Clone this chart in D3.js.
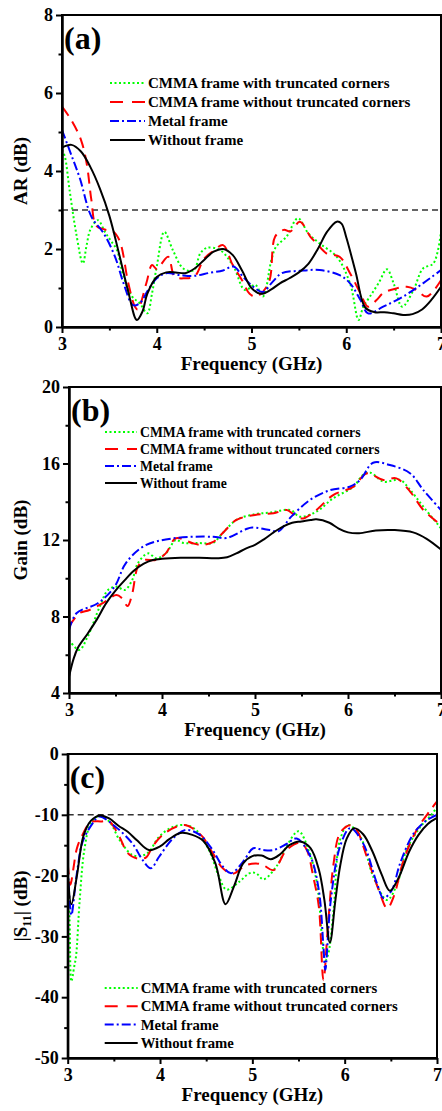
<!DOCTYPE html>
<html lang="en">
<head>
<meta charset="UTF-8">
<title>AR, Gain and S11 vs Frequency</title>
<script src="https://d3js.org/d3.v7.min.js"></script>
<style>
  body { margin: 0; padding: 0; background: #fff; }
  svg text { font-family: 'Liberation Serif', 'Times New Roman', serif; font-weight: bold; fill: #000; }
</style>
</head>
<body>
<svg id="chart" width="442" height="1111"></svg>
<script>

// ---- data (frequency in GHz, value) ----
var freqTicks = [3, 4, 5, 6, 7];
var freqMinor = [3.5, 4.5, 5.5, 6.5];

var seriesNames = ["CMMA frame with truncated corners", "CMMA frame without truncated corners", "Metal frame", "Without frame"];

// (a) axial ratio, dB
var arTicks = [0, 2, 4, 6, 8];
var arMinor = [1, 3, 5, 7];
var arLimit = 3;
var arGreen = [[3.0,4.54],[3.03,4.37],[3.08,3.51],[3.15,2.4],[3.22,1.63],[3.26,2.1],[3.3,2.5],[3.38,2.74],[3.45,2.45],[3.51,2.23],[3.58,1.97],[3.65,1.29],[3.74,0.78],[3.82,0.61],[3.9,0.35],[3.95,0.86],[4.0,1.55],[4.08,2.44],[4.17,1.97],[4.28,1.5],[4.39,1.45],[4.46,1.89],[4.53,2.03],[4.67,1.97],[4.81,1.55],[4.93,0.95],[5.04,1.08],[5.12,0.78],[5.21,1.72],[5.26,2.06],[5.37,2.32],[5.49,2.79],[5.6,2.4],[5.72,2.14],[5.9,1.8],[6.04,1.12],[6.13,0.18],[6.18,0.52],[6.25,0.78],[6.34,1.12],[6.43,1.48],[6.5,1.12],[6.59,0.52],[6.71,0.95],[6.81,1.5],[6.92,1.63],[7.0,2.44]];
var arRed = [[3.0,5.65],[3.1,5.3],[3.2,4.8],[3.26,4.2],[3.31,3.26],[3.36,2.6],[3.45,2.5],[3.54,2.45],[3.61,2.2],[3.7,1.12],[3.77,0.52],[3.8,0.45],[3.89,1.12],[3.95,1.59],[4.0,1.49],[4.12,1.8],[4.19,1.29],[4.3,1.25],[4.4,1.3],[4.5,1.75],[4.6,1.95],[4.7,2.1],[4.8,1.6],[4.9,1.2],[4.98,0.85],[5.05,0.78],[5.18,1.12],[5.25,2.32],[5.34,2.49],[5.41,2.45],[5.51,2.7],[5.62,2.32],[5.69,2.14],[5.79,1.89],[5.93,1.8],[6.04,1.38],[6.15,0.86],[6.23,0.52],[6.32,0.69],[6.39,0.87],[6.53,0.99],[6.64,1.03],[6.74,0.95],[6.85,0.78],[7.0,1.2]];
var arBlue = [[3.0,5.05],[3.1,4.4],[3.19,3.8],[3.31,2.83],[3.44,2.4],[3.56,1.8],[3.65,1.12],[3.75,0.56],[3.82,0.61],[3.91,0.95],[4.0,1.25],[4.1,1.38],[4.25,1.33],[4.39,1.31],[4.56,1.39],[4.7,1.45],[4.81,1.55],[4.91,1.29],[5.02,1.03],[5.12,0.9],[5.22,1.15],[5.32,1.38],[5.51,1.44],[5.72,1.46],[5.93,1.33],[6.04,1.12],[6.15,0.69],[6.23,0.35],[6.39,0.52],[6.6,0.78],[6.81,1.12],[7.0,1.46]];
var arBlack = [[3.0,4.6],[3.1,4.67],[3.2,4.5],[3.3,4.1],[3.4,3.55],[3.5,2.85],[3.6,1.9],[3.7,0.9],[3.79,0.18],[3.85,0.4],[3.9,0.85],[4.0,1.28],[4.1,1.4],[4.2,1.4],[4.3,1.38],[4.4,1.5],[4.5,1.72],[4.6,1.93],[4.7,2.0],[4.8,1.85],[4.9,1.45],[5.0,1.0],[5.1,0.85],[5.2,0.95],[5.3,1.12],[5.4,1.25],[5.5,1.4],[5.6,1.62],[5.7,2.0],[5.8,2.45],[5.9,2.7],[5.95,2.65],[6.0,2.3],[6.1,1.4],[6.2,0.5],[6.3,0.38],[6.4,0.38],[6.5,0.35],[6.6,0.31],[6.7,0.33],[6.8,0.45],[6.9,0.7],[7.0,1.03]];

// (b) gain, dB
var gainTicks = [4, 8, 12, 16, 20];
var gainMinor = [6, 10, 14, 18];
var gainGreen = [[3.0,6.77],[3.11,6.25],[3.2,6.94],[3.33,8.51],[3.42,9.39],[3.51,9.56],[3.6,9.39],[3.68,9.91],[3.74,10.78],[3.85,11.3],[3.94,11.04],[4.04,11.3],[4.15,12.0],[4.22,11.86],[4.4,11.84],[4.55,11.86],[4.65,12.35],[4.8,13.05],[5.0,13.35],[5.16,13.43],[5.38,13.57],[5.48,13.22],[5.66,13.48],[5.84,14.18],[6.06,14.79],[6.16,15.4],[6.24,15.52],[6.38,15.05],[6.56,15.14],[6.67,14.61],[6.81,13.74],[7.0,12.61]];
var gainRed = [[3.0,7.47],[3.11,8.17],[3.22,8.34],[3.36,8.69],[3.51,9.12],[3.57,8.95],[3.63,8.55],[3.68,9.2],[3.74,10.6],[3.81,10.95],[3.93,10.95],[4.04,11.3],[4.15,12.09],[4.33,11.83],[4.43,11.74],[4.55,11.9],[4.65,12.35],[4.8,13.05],[5.0,13.31],[5.2,13.4],[5.34,13.57],[5.45,13.22],[5.52,13.13],[5.66,13.57],[5.84,14.35],[6.06,14.79],[6.2,15.48],[6.38,15.14],[6.52,15.22],[6.67,14.52],[6.81,13.57],[7.0,12.78]];
var gainBlue = [[3.0,7.29],[3.08,8.17],[3.31,8.69],[3.49,9.56],[3.61,10.78],[3.81,11.69],[4.12,12.09],[4.55,12.17],[4.69,12.1],[4.9,12.56],[4.97,12.65],[5.16,12.52],[5.25,12.45],[5.39,13.22],[5.59,14.09],[5.81,14.61],[6.02,14.79],[6.13,15.14],[6.27,16.04],[6.45,15.92],[6.67,15.48],[6.81,14.61],[7.0,13.57]];
var gainBlack = [[3.0,4.85],[3.05,5.8],[3.1,6.4],[3.2,7.1],[3.3,7.85],[3.4,8.7],[3.5,9.35],[3.6,9.9],[3.7,10.4],[3.8,10.75],[3.9,10.95],[4.0,11.02],[4.2,11.07],[4.4,11.07],[4.6,11.05],[4.7,11.1],[4.8,11.3],[4.9,11.55],[5.0,11.75],[5.1,12.05],[5.2,12.4],[5.3,12.7],[5.4,12.9],[5.5,12.97],[5.6,13.05],[5.66,13.08],[5.8,12.9],[5.9,12.6],[6.0,12.4],[6.12,12.35],[6.3,12.5],[6.5,12.52],[6.7,12.4],[6.85,12.05],[7.0,11.5]];

// (c) |S11|, dB
var s11Ticks = [0, -10, -20, -30, -40, -50];
var s11Minor = [-5, -15, -25, -35, -45];
var s11Limit = -10;
var s11Green = [[3.0,-19.1],[3.02,-27],[3.04,-37.4],[3.07,-35],[3.09,-33.3],[3.13,-24],[3.18,-15.8],[3.25,-11.4],[3.34,-10.2],[3.45,-11.1],[3.56,-14.1],[3.7,-16.6],[3.81,-16.7],[3.88,-16.1],[3.99,-13.6],[4.14,-12.0],[4.28,-11.7],[4.39,-12.5],[4.53,-15.8],[4.64,-20.2],[4.72,-22.3],[4.86,-21.0],[4.97,-19.6],[5.04,-19.6],[5.12,-20.6],[5.27,-18.3],[5.37,-15.2],[5.5,-12.7],[5.61,-15.8],[5.7,-21.3],[5.79,-33.9],[5.82,-33],[5.88,-25.7],[5.95,-14.1],[6.04,-11.7],[6.17,-13.6],[6.31,-20.2],[6.46,-24],[6.57,-21.3],[6.67,-15.8],[6.82,-12.0],[6.95,-9.8],[7.0,-8.7]];
var s11Red = [[3.0,-18],[3.03,-21.5],[3.06,-19],[3.1,-15.5],[3.16,-13.3],[3.25,-11.2],[3.36,-11.1],[3.45,-11.1],[3.56,-13.6],[3.65,-16.3],[3.76,-17.2],[3.85,-17.0],[3.92,-15.2],[4.03,-13.3],[4.17,-12.0],[4.28,-11.7],[4.35,-12.2],[4.46,-13.6],[4.57,-16.3],[4.68,-18.8],[4.79,-19.7],[4.93,-18.3],[5.04,-18.0],[5.12,-18.3],[5.23,-19.1],[5.37,-15.8],[5.52,-14.6],[5.59,-15.8],[5.66,-20.2],[5.72,-25.1],[5.77,-37.2],[5.82,-28],[5.88,-18],[5.95,-13.0],[6.06,-11.7],[6.13,-12.5],[6.24,-16.9],[6.37,-22.4],[6.46,-25.4],[6.53,-23.5],[6.64,-17.4],[6.78,-12.5],[6.93,-9.2],[7.0,-7.8]];
var s11Blue = [[3.0,-18.5],[3.04,-26.5],[3.08,-22],[3.11,-18.5],[3.16,-14.5],[3.27,-11.4],[3.34,-10.3],[3.52,-12.0],[3.7,-14.7],[3.81,-17.4],[3.9,-18.8],[3.99,-16.9],[4.14,-13.9],[4.28,-12.5],[4.43,-13.3],[4.57,-15.8],[4.68,-18.5],[4.77,-19.6],[4.9,-17.7],[5.01,-15.5],[5.12,-15.8],[5.23,-15.8],[5.37,-14.8],[5.48,-13.9],[5.63,-16.9],[5.72,-22.4],[5.77,-31.7],[5.79,-35.5],[5.85,-24],[5.95,-15.2],[6.06,-12.2],[6.2,-14.7],[6.35,-21.3],[6.42,-23.7],[6.51,-22.4],[6.6,-18.0],[6.75,-13.0],[6.89,-10.9],[7.0,-10.0]];
var s11Black = [[3.0,-19.5],[3.04,-24.7],[3.1,-20],[3.17,-13.5],[3.25,-11],[3.35,-10.1],[3.45,-10.6],[3.55,-11.8],[3.65,-12.8],[3.75,-14.2],[3.88,-15.8],[4.0,-15.2],[4.1,-14],[4.22,-13.0],[4.35,-13.3],[4.47,-14.3],[4.6,-18],[4.71,-24.7],[4.8,-21.8],[4.9,-18],[5.0,-16.8],[5.1,-16.7],[5.2,-17.3],[5.3,-16.5],[5.4,-15],[5.52,-14.4],[5.63,-15.5],[5.72,-19],[5.78,-24],[5.84,-31],[5.9,-24],[5.95,-18.5],[6.02,-14],[6.1,-12.2],[6.2,-13.2],[6.3,-16],[6.4,-19.8],[6.49,-22.5],[6.58,-20.5],[6.7,-16],[6.8,-13.3],[6.9,-11.5],[7.0,-10.5]];

// ---- styles ----
var colors = ["#00ff00", "#ff0000", "#0000ff", "#000000"];
var dashes = ["2,2.5", "11,7", "9,3,2,3", null];

var svg = d3.select("#chart");

function drawPanel(p) {
  var x = d3.scaleLinear().domain([3, 7]).range([p.left, p.right]);
  var y = d3.scaleLinear().domain(p.yDomain).range([p.bottom, p.top]);
  var g = svg.append("g");

  var clipId = "clip" + p.label.replace(/\W/g, "");
  g.append("clipPath").attr("id", clipId)
    .append("rect")
    .attr("x", p.left).attr("y", p.top)
    .attr("width", p.right - p.left).attr("height", p.bottom - p.top);

  // dashed limit line
  if (p.limit !== undefined) {
    g.append("line")
      .attr("x1", p.left).attr("x2", p.right)
      .attr("y1", y(p.limit)).attr("y2", y(p.limit))
      .attr("stroke", "#333").attr("stroke-width", 1.6)
      .attr("stroke-dasharray", "6,4");
  }

  // curves
  var line = d3.line()
    .x(function(d) { return x(d[0]); })
    .y(function(d) { return y(d[1]); })
    .curve(d3.curveCatmullRom.alpha(0.5));

  var curves = g.append("g").attr("clip-path", "url(#" + clipId + ")");
  p.series.forEach(function(s, i) {
    curves.append("path")
      .datum(s)
      .attr("d", line)
      .attr("fill", "none")
      .attr("stroke", colors[i])
      .attr("stroke-width", 2)
      .attr("stroke-dasharray", dashes[i]);
  });

  // axes
  g.append("g")
    .attr("transform", "translate(0," + p.bottom + ")")
    .call(d3.axisBottom(x).tickValues(freqTicks).tickSize(6).tickSizeOuter(0).tickPadding(4)
      .tickFormat(function(d) { return String(d); }));
  g.append("g")
    .attr("transform", "translate(0," + p.bottom + ")")
    .call(d3.axisBottom(x).tickValues(freqMinor).tickSize(3.5).tickSizeOuter(0).tickFormat(""));

  g.append("g")
    .attr("transform", "translate(" + p.left + ",0)")
    .call(d3.axisLeft(y).tickValues(p.yTicks).tickSize(6).tickSizeOuter(0).tickPadding(3)
      .tickFormat(function(d) { return String(d); }));
  g.append("g")
    .attr("transform", "translate(" + p.left + ",0)")
    .call(d3.axisLeft(y).tickValues(p.yMinor).tickSize(3.5).tickSizeOuter(0).tickFormat(""));

  g.selectAll(".tick line").attr("stroke", "#000").attr("stroke-width", 2);
  g.selectAll(".domain").attr("stroke", "#000").attr("stroke-width", 2);
  g.selectAll(".tick text")
    .style("font-family", "'Liberation Serif', serif")
    .style("font-weight", "bold")
    .style("font-size", "18px");

  // frame
  g.append("rect")
    .attr("x", p.left).attr("y", p.top)
    .attr("width", p.right - p.left).attr("height", p.bottom - p.top)
    .attr("fill", "none").attr("stroke", "#000").attr("stroke-width", 2);

  // panel label
  g.append("text")
    .attr("x", p.left + 2).attr("y", p.top + 34)
    .style("font-size", "32px")
    .text(p.label);

  // x title
  g.append("text")
    .attr("x", (p.left + p.right) / 2).attr("y", p.bottom + 43)
    .attr("text-anchor", "middle")
    .style("font-size", "19px")
    .text("Frequency (GHz)");

  // y title
  var yt = g.append("text")
    .attr("text-anchor", "middle")
    .attr("transform", "translate(27," + (p.top + p.bottom) / 2 + ")rotate(-90)")
    .style("font-size", "19px");
  if (p.sub) {
    yt.append("tspan").text("|S");
    yt.append("tspan").attr("dy", 4).style("font-size", "12px").text("11");
    yt.append("tspan").attr("dy", -4).text("| (dB)");
  } else {
    yt.text(p.yTitle);
  }

  // legend
  var lg = g.append("g").attr("transform", "translate(" + (p.left + p.leg.x) + "," + (p.top + p.leg.y) + ")");
  seriesNames.forEach(function(name, i) {
    var ly = i * p.leg.step;
    lg.append("line")
      .attr("x1", 0).attr("x2", p.leg.len)
      .attr("y1", ly).attr("y2", ly)
      .attr("stroke", colors[i]).attr("stroke-width", 2)
      .attr("stroke-dasharray", i == 1 ? "13,9" : dashes[i]);
    lg.append("text")
      .attr("x", p.leg.len + 3).attr("y", ly + 5)
      .style("font-size", p.leg.font + "px")
      .text(name);
  });
}

drawPanel({
  label: "(a)", yTitle: "AR (dB)",
  left: 62, right: 441, top: 15, bottom: 327,
  yDomain: [0, 8], yTicks: arTicks, yMinor: arMinor, limit: arLimit,
  series: [arGreen, arRed, arBlue, arBlack],
  leg: { x: 48, y: 68, step: 19, len: 35, font: 15 }
});

drawPanel({
  label: "(b)", yTitle: "Gain (dB)",
  left: 69, right: 441, top: 387, bottom: 693,
  yDomain: [4, 20], yTicks: gainTicks, yMinor: gainMinor,
  series: [gainGreen, gainRed, gainBlue, gainBlack],
  leg: { x: 36, y: 45, step: 17, len: 32, font: 13.7 }
});

drawPanel({
  label: "(c)", sub: true,
  left: 67.7, right: 437, top: 754, bottom: 1058,
  yDomain: [-50, 0], yTicks: s11Ticks, yMinor: s11Minor, limit: s11Limit,
  series: [s11Green, s11Red, s11Blue, s11Black],
  leg: { x: 37, y: 234, step: 18.3, len: 33, font: 14.7 }
});

</script>
</body>
</html>
